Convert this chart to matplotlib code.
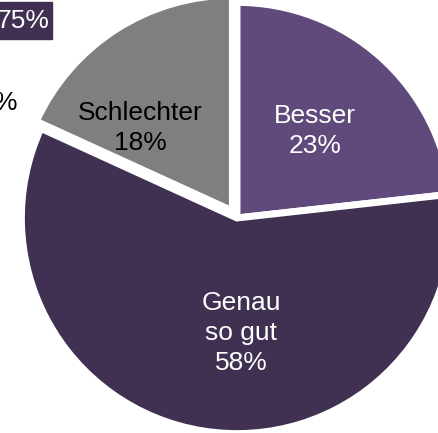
import matplotlib.pyplot as plt
from matplotlib.patches import Rectangle

categories = ['Besser', 'Genau\nso gut', 'Schlechter']
shares = [23, 58, 18]
slice_colors = ['#604a7b', '#403152', '#7f7f7f']
text_colors = ['white', 'white', 'black']
# label centres in pie units (radius = 1)
label_pos = [(0.366, 0.41), (0.019, -0.542), (-0.455, 0.425)]

plt.rcParams['font.family'] = ['Liberation Sans', 'DejaVu Sans']

fig = plt.figure(figsize=(4.39, 4.33), dpi=100)
ax = fig.add_axes([0, 0, 1, 1])

ax.pie(shares, colors=slice_colors, startangle=90, counterclock=False,
       explode=[0, 0, 0.04], radius=1.017,
       wedgeprops=dict(edgecolor='white', linewidth=5))

for name, val, (x, y), c in zip(categories, shares, label_pos, text_colors):
    ax.text(x, y, f'{name}\n{val}%', ha='center', va='center',
            fontsize=19, color=c, linespacing=1.3)

# centre at (237, 218) px, radius 212 px
ax.set_xlim(-237 / 212, (439 - 237) / 212)
ax.set_ylim(-(433 - 218) / 212, 218 / 212)
ax.set_aspect('auto')
ax.axis('off')

# leftovers of neighbouring labels cut off at the left edge
fig.patches.append(Rectangle((0, 1 - 39 / 433), 52 / 439, 37 / 433,
                             transform=fig.transFigure, color='#403152'))
fig.text(50 / 439, 1 - 21 / 433, '75%', ha='right', va='center',
         fontsize=19, color='white')
fig.text(18 / 439, 1 - 103 / 433, '%', ha='right', va='center',
         fontsize=19, color='black')

fig.savefig('out.png', dpi=100)
